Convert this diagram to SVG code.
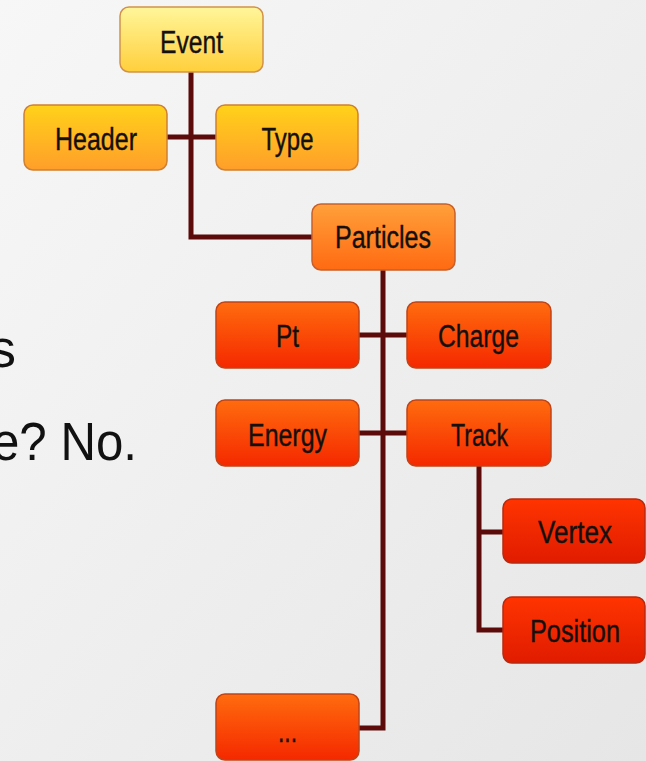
<svg xmlns="http://www.w3.org/2000/svg" width="646" height="761" viewBox="0 0 646 761">
<defs>
<linearGradient id="bg" x1="0" y1="0" x2="1" y2="1">
<stop offset="0" stop-color="#f7f7f7"/><stop offset="1" stop-color="#e6e6e6"/>
</linearGradient>
<linearGradient id="g1" x1="0" y1="0" x2="0" y2="1">
<stop offset="0" stop-color="#fff69a"/><stop offset="1" stop-color="#ffcf3c"/>
</linearGradient>
<linearGradient id="g2" x1="0" y1="0" x2="0" y2="1">
<stop offset="0" stop-color="#ffd21a"/><stop offset="1" stop-color="#ff9e2a"/>
</linearGradient>
<linearGradient id="g3" x1="0" y1="0" x2="0" y2="1">
<stop offset="0" stop-color="#ffa03a"/><stop offset="1" stop-color="#ff6a12"/>
</linearGradient>
<linearGradient id="g4" x1="0" y1="0" x2="0" y2="1">
<stop offset="0" stop-color="#ff6c0e"/><stop offset="1" stop-color="#f52800"/>
</linearGradient>
<linearGradient id="g5" x1="0" y1="0" x2="0" y2="1">
<stop offset="0" stop-color="#ff3400"/><stop offset="1" stop-color="#e01c00"/>
</linearGradient>
</defs>
<style>
.n rect{stroke-width:1.5}
.l1 rect{fill:url(#g1);stroke:#d2924a}
.l2 rect{fill:url(#g2);stroke:#d08030}
.l3 rect{fill:url(#g3);stroke:#c8602a}
.l4 rect{fill:url(#g4);stroke:#c04418}
.l5 rect{fill:url(#g5);stroke:#b82a10}
.n text{font-family:"Liberation Sans",Arial,sans-serif;font-size:31px;fill:#151010;stroke:#151010;stroke-width:0.4;text-anchor:middle}
.c{fill:none;stroke:#5c0a0a;stroke-width:5}
.big{font-family:"Liberation Sans",Arial,sans-serif;font-size:54px;fill:#111}
</style>
<rect width="646" height="761" fill="url(#bg)"/>
<text class="big" x="16" y="367" text-anchor="end">s</text>
<text class="big" x="-8" y="460" textLength="145" lengthAdjust="spacingAndGlyphs">e? No.</text>
<g id="connectors">
<path class="c" d="M191 72 V237 H312"/>
<path class="c" d="M167 137 H216"/>
<path class="c" d="M383 270 V728 H359"/>
<path class="c" d="M359 335 H407"/>
<path class="c" d="M359 433 H407"/>
<path class="c" d="M479 466 V630 H503 M479 532 H503"/>
</g>
<g id="event" class="n l1"><rect x="120" y="7" width="143" height="65" rx="9"/><text x="191.5" y="53" textLength="63" lengthAdjust="spacingAndGlyphs">Event</text></g>
<g id="header" class="n l2"><rect x="24" y="105" width="143" height="65" rx="9"/><text x="96" y="150" textLength="82" lengthAdjust="spacingAndGlyphs">Header</text></g>
<g id="type" class="n l2"><rect x="216" y="105" width="142" height="65" rx="9"/><text x="287.5" y="150" textLength="52" lengthAdjust="spacingAndGlyphs">Type</text></g>
<g id="particles" class="n l3"><rect x="312" y="204" width="143" height="66" rx="9"/><text x="383" y="248" textLength="96" lengthAdjust="spacingAndGlyphs">Particles</text></g>
<g id="pt" class="n l4"><rect x="216" y="302" width="143" height="66" rx="9"/><text x="287.5" y="347" textLength="23" lengthAdjust="spacingAndGlyphs">Pt</text></g>
<g id="charge" class="n l4"><rect x="407" y="302" width="144" height="66" rx="9"/><text x="478.5" y="347" textLength="81" lengthAdjust="spacingAndGlyphs">Charge</text></g>
<g id="energy" class="n l4"><rect x="216" y="400" width="143" height="66" rx="9"/><text x="287.5" y="446" textLength="79" lengthAdjust="spacingAndGlyphs">Energy</text></g>
<g id="track" class="n l4"><rect x="407" y="400" width="144" height="66" rx="9"/><text x="479.5" y="446" textLength="57" lengthAdjust="spacingAndGlyphs">Track</text></g>
<g id="vertex" class="n l5"><rect x="503" y="499" width="142" height="64" rx="9"/><text x="575" y="543" textLength="74" lengthAdjust="spacingAndGlyphs">Vertex</text></g>
<g id="position" class="n l5"><rect x="503" y="597" width="142" height="66" rx="9"/><text x="575" y="642" textLength="90" lengthAdjust="spacingAndGlyphs">Position</text></g>
<g id="more" class="n l4"><rect x="216" y="694" width="143" height="66" rx="9"/><text x="287.5" y="742" textLength="19" lengthAdjust="spacingAndGlyphs">...</text></g>
</svg>
